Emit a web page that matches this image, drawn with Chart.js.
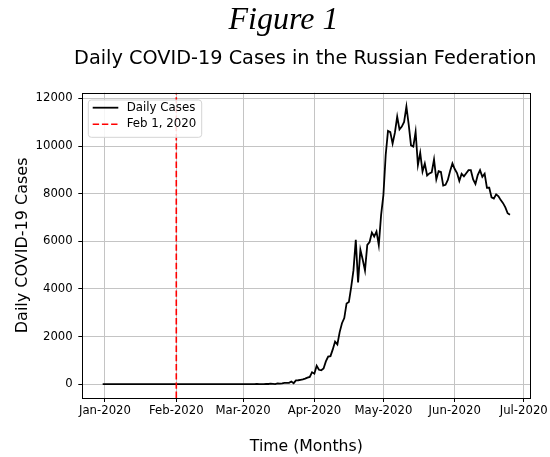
<!DOCTYPE html>
<html>
<head>
<meta charset="utf-8">
<script src="https://cdn.jsdelivr.net/npm/chart.js@4"></script>
<style>
  body { margin: 0; background: #fff; }
  canvas { display: block; }
</style>
</head>
<body>
<canvas id="casesChart" width="550" height="457"></canvas>
<script>
// daily new cases, one array per month (first value is 2019-12-31)
const firstDate = '2019-12-31';
const dec2019 = [0];
const jan2020 = [0, 0, 0, 0, 0, 0, 0, 0, 0, 0, 0, 0, 0, 0, 0, 0, 0, 0, 0, 0, 0, 0, 0, 0, 0, 0, 0, 0, 0, 0, 2];
const feb2020 = [0, 0, 0, 0, 0, 0, 0, 0, 0, 0, 0, 0, 0, 0, 0, 0, 0, 0, 0, 0, 0, 0, 0, 0, 0, 0, 0, 0, 0];
const mar2020 = [0, 1, 0, 0, 1, 1, 9, 0, 3, 3, 8, 6, 17, 14, 4, 30, 21, 33, 52, 54, 53, 110, 40, 160, 163, 182, 196, 228, 270, 302, 501];
const apr2020 = [440, 771, 601, 582, 658, 954, 1154, 1175, 1459, 1786, 1667, 2186, 2558, 2774, 3388, 3448, 4070, 4785, 6060, 4268,
                 5642, 5236, 4774, 5849, 5966, 6361, 6198, 6411, 5841, 7099];
const may2020 = [7933, 9623, 10633, 10581, 10102, 10559, 11231, 10699, 10817, 11012, 11656, 10899, 10028, 9974, 10598, 9200,
                 9709, 8926, 9263, 8764, 8849, 8894, 9434, 8599, 8946, 8915, 8338, 8371, 8572, 8952, 9268];
const jun2020 = [9035, 8863, 8536, 8831, 8726, 8855, 8984, 8985, 8595, 8404, 8779, 8987, 8706, 8835, 8246, 8248, 7843, 7790,
                 7972, 7889, 7728, 7600, 7425, 7176, 7113];

const markerDate = '2020-02-01';
const tickDates = ['2020-01-01', '2020-02-01', '2020-03-01', '2020-04-01', '2020-05-01', '2020-06-01', '2020-07-01'];
const tickLabels = ['Jan-2020', 'Feb-2020', 'Mar-2020', 'Apr-2020', 'May-2020', 'Jun-2020', 'Jul-2020'];
const yTicks = [0, 2000, 4000, 6000, 8000, 10000, 12000];

// x values are days counted from 2020-01-01
const dayOf = d => (Date.parse(d) - Date.parse('2020-01-01')) / 86400000;

const cases = [].concat(dec2019, jan2020, feb2020, mar2020, apr2020, may2020, jun2020);
const day0 = dayOf(firstDate);
const casePoints = cases.map((v, i) => ({ x: day0 + i, y: v }));

// matplotlib style 5% margins
const xSpan = casePoints.length - 1;
const xMin = day0 - xSpan * 0.05;
const xMax = day0 + xSpan * 1.05;
const yTop = Math.max(...cases);
const yMin = -yTop * 0.05;
const yMax = yTop * 1.05;

const FONT = "'DejaVu Sans', sans-serif";
const GRID = '#c4c4c4';

const decor = {
  id: 'decor',
  afterDatasetsDraw(chart) {
    const { ctx, chartArea: ca } = chart;
    ctx.save();
    // axes box
    ctx.strokeStyle = '#000';
    ctx.lineWidth = 1;
    ctx.strokeRect(Math.round(ca.left) + 0.5, Math.round(ca.top) + 0.5,
      Math.round(ca.right) - Math.round(ca.left), Math.round(ca.bottom) - Math.round(ca.top));

    // legend, upper left like matplotlib
    const lx = ca.left + 6, ly = ca.top + 7.3, lw = 113.4, lh = 37.3;
    ctx.beginPath();
    ctx.roundRect(lx, ly, lw, lh, 3);
    ctx.fillStyle = 'rgba(255,255,255,0.85)';
    ctx.fill();
    ctx.strokeStyle = '#d4d4d4';
    ctx.stroke();
    ctx.font = '11.8px ' + FONT;
    ctx.textBaseline = 'middle';
    chart.data.datasets.forEach((ds, i) => {
      const cy = ly + 7.7 + i * 16.6;
      ctx.beginPath();
      ctx.setLineDash(ds.borderDash || []);
      ctx.strokeStyle = ds.borderColor;
      ctx.lineWidth = ds.borderWidth;
      ctx.moveTo(lx + 4.4, cy);
      ctx.lineTo(lx + 30, cy);
      ctx.stroke();
      ctx.setLineDash([]);
      ctx.fillStyle = '#000';
      ctx.fillText(ds.label, lx + 38.4, cy);
    });

    // figure caption and title
    ctx.fillStyle = '#000';
    ctx.textAlign = 'center';
    ctx.textBaseline = 'alphabetic';
    ctx.font = "italic 32px 'Liberation Serif', serif";
    ctx.fillText('Figure 1', 283.5, 29);
    ctx.font = '19.3px ' + FONT;
    ctx.fillText('Daily COVID-19 Cases in the Russian Federation', (ca.left + ca.right) / 2 - 1, 63.5);
    ctx.restore();
  }
};

new Chart(document.getElementById('casesChart'), {
  type: 'line',
  data: {
    datasets: [{
      label: 'Daily Cases',
      data: casePoints,
      borderColor: '#000',
      borderWidth: 1.8,
      pointRadius: 0,
      order: 1
    }, {
      label: 'Feb 1, 2020',
      data: [{ x: dayOf(markerDate), y: yMin }, { x: dayOf(markerDate), y: yMax }],
      borderColor: '#ff0000',
      borderWidth: 1.6,
      borderDash: [6.4, 2.8],
      pointRadius: 0,
      order: 0
    }]
  },
  options: {
    responsive: false,
    animation: false,
    layout: { padding: { top: 92.7, right: 14.3, bottom: 0, left: 0 } },
    plugins: {
      legend: { display: false },
      tooltip: { enabled: false }
    },
    scales: {
      x: {
        type: 'linear',
        min: xMin,
        max: xMax,
        afterBuildTicks: s => { s.ticks = tickDates.map(d => ({ value: dayOf(d) })); },
        afterFit: s => { s.height = 59; },
        ticks: {
          callback: (v, i) => tickLabels[i],
          color: '#000',
          font: { family: FONT, size: 11.7 },
          padding: 2,
          maxRotation: 0,
          autoSkip: false
        },
        grid: { color: GRID, lineWidth: 1, tickColor: '#000', tickLength: 4 },
        border: { display: false },
        title: {
          display: true,
          text: 'Time (Months)',
          color: '#000',
          font: { family: FONT, size: 15.7 },
          padding: { top: 0, bottom: 1 }
        }
      },
      y: {
        min: yMin,
        max: yMax,
        afterBuildTicks: s => { s.ticks = yTicks.map(v => ({ value: v })); },
        afterFit: s => { s.width = 82.3; },
        ticks: {
          callback: v => String(v),
          color: '#000',
          font: { family: FONT, size: 11.7 },
          padding: 5.6
        },
        grid: { color: GRID, lineWidth: 1, tickColor: '#000', tickLength: 4 },
        border: { display: false },
        title: {
          display: true,
          text: 'Daily COVID-19 Cases',
          color: '#000',
          font: { family: FONT, size: 16 },
          padding: { top: 13, bottom: 0 }
        }
      }
    }
  },
  plugins: [decor]
});
</script>
</body>
</html>
